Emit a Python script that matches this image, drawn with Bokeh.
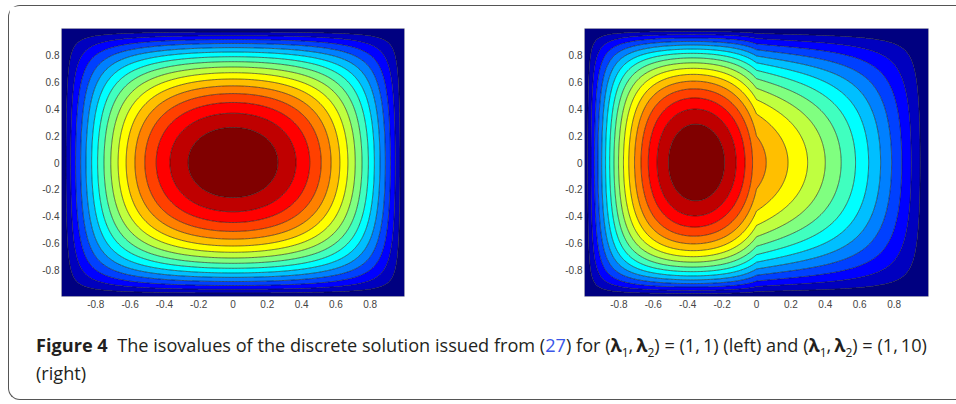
import numpy as np
from bokeh.plotting import figure
from bokeh.layouts import row, column
from bokeh.models import FixedTicker, CustomJSTickFormatter, Div
from bokeh.embed import file_html
from bokeh.resources import INLINE

# ---- values ----
lambda_left = [1.0, 1.0]       # (lambda1, lambda2) quoted for the left panel
lambda_right = [1.0, 10.0]     # (lambda1, lambda2) quoted for the right panel
# diffusion coefficients (x<0, x>0) that reproduce the isovalue pattern seen in each panel
coef_left = [1.0, 1.0]
coef_right = [1.0, 3.7]
n_bands = 17                   # filled isovalue bands
tick_values = [-0.8, -0.6, -0.4, -0.2, 0.0, 0.2, 0.4, 0.6, 0.8]
domain = [-1.0, 1.0]
source_term = 1.0
grid_n = 240

caption_label = "Figure 4"
caption_parts = ["The isovalues of the discrete solution issued from (", "27", ") for (",
                 ") = (1,\u20091) (left) and (", ") = (1,\u200910)", "(right)"]


def solve(c_left, c_right, N=grid_n):
    """Finite-volume solution of -div(c grad u) = f on the square with u = 0 on the boundary."""
    x = np.linspace(domain[0], domain[1], N + 1)
    h = x[1] - x[0]
    xi = x[1:-1]
    n = N - 1
    xh = 0.5 * (x[:-1] + x[1:])
    lam_h = np.where(xh < 0, c_left, c_right)
    lam_n = np.where(xi < -1e-12, c_left, np.where(xi > 1e-12, c_right, 0.5 * (c_left + c_right)))
    idx = np.arange(n)
    Lx = np.zeros((n, n))
    Lx[idx, idx] = (lam_h[:-1] + lam_h[1:]) / h ** 2
    Lx[idx[1:], idx[:-1]] = -lam_h[1:-1] / h ** 2
    Lx[idx[:-1], idx[1:]] = -lam_h[1:-1] / h ** 2
    Ty = (2 * np.eye(n) - np.eye(n, k=1) - np.eye(n, k=-1)) / h ** 2
    mu, Q = np.linalg.eigh(Ty)
    G = np.full((n, n), source_term) @ Q
    V = np.empty_like(G)
    D = np.diag(lam_n)
    for j in range(n):
        V[:, j] = np.linalg.solve(Lx + mu[j] * D, G[:, j])
    U = V @ Q.T
    Z = np.zeros((N + 1, N + 1))
    Z[1:-1, 1:-1] = U
    return x, Z.T  # indexed [y, x]


def jet(t):
    r = np.clip(1.5 - abs(4 * t - 3), 0, 1)
    g = np.clip(1.5 - abs(4 * t - 2), 0, 1)
    b = np.clip(1.5 - abs(4 * t - 1), 0, 1)
    return "#%02x%02x%02x" % (int(round(r * 255)), int(round(g * 255)), int(round(b * 255)))


band_colors = [jet(k / (n_bands - 1)) for k in range(n_bands)]


def make_panel(coefs, width, bl, br):
    x, Z = solve(*coefs)
    zmax = Z.max()
    levels = list(np.linspace(0.0, zmax, n_bands + 1))
    levels[0] = -1e-9
    levels[-1] = zmax * (1 + 1e-9)
    p = figure(width=width, height=312, x_range=(domain[0], domain[1]), y_range=(domain[0], domain[1]),
               output_backend="svg", toolbar_location=None,
               min_border_left=bl, min_border_right=br, min_border_top=22, min_border_bottom=22)
    p.contour(x=x, y=x, z=Z, levels=levels, fill_color=band_colors,
              line_color="#1a1a1a", line_width=0.7, line_alpha=0.85)
    p.grid.visible = False
    p.outline_line_color = "#c8c8c8"
    p.outline_line_width = 1
    fmt = CustomJSTickFormatter(code="return Math.abs(tick) < 1e-9 ? '0' : tick.toFixed(1);")
    for ax in (p.xaxis, p.yaxis):
        ax.ticker = FixedTicker(ticks=tick_values)
        ax.formatter = fmt
        ax.major_tick_line_color = None
        ax.minor_tick_line_color = None
        ax.major_tick_out = 0
        ax.major_tick_in = 0
        ax.minor_tick_out = 0
        ax.axis_line_color = None
        ax.major_label_text_font = "Liberation Sans"
        ax.major_label_text_font_size = "10px"
        ax.major_label_text_color = "#444444"
    p.xaxis.major_label_standoff = 3
    p.yaxis.major_label_standoff = 2
    return p


p1 = make_panel(coef_left, 485, 52, 90)
p2 = make_panel(coef_right, 462, 90, 28)


def lam_pair():
    return ("<b>\u03bb</b><sub style='font-size:12px'>1</sub>,\u2009"
            "<b>\u03bb</b><sub style='font-size:12px'>2</sub>")


lam = lam_pair()
html = ("<b>%s</b>&nbsp;&nbsp;%s<span style='color:#3a56e8'>%s</span>%s%s%s%s%s<br>%s"
        % (caption_label, caption_parts[0], caption_parts[1], caption_parts[2], lam,
           caption_parts[3], lam, caption_parts[4], caption_parts[5]))
cap = Div(text=html, width=912, height=46, margin=(17, 0, 18, 27),
          styles={"font-family": "Open Sans", "font-size": "18.15px", "line-height": "20px",
                  "color": "#231f20", "white-space": "nowrap"})

layout = column(row(p1, p2), cap,
                styles={"margin-left": "8px", "margin-top": "5px", "border": "1px solid #555555",
                        "border-right": "none", "border-radius": "12px 0 0 12px"})

open("out.html", "w").write(file_html(layout, INLINE))
